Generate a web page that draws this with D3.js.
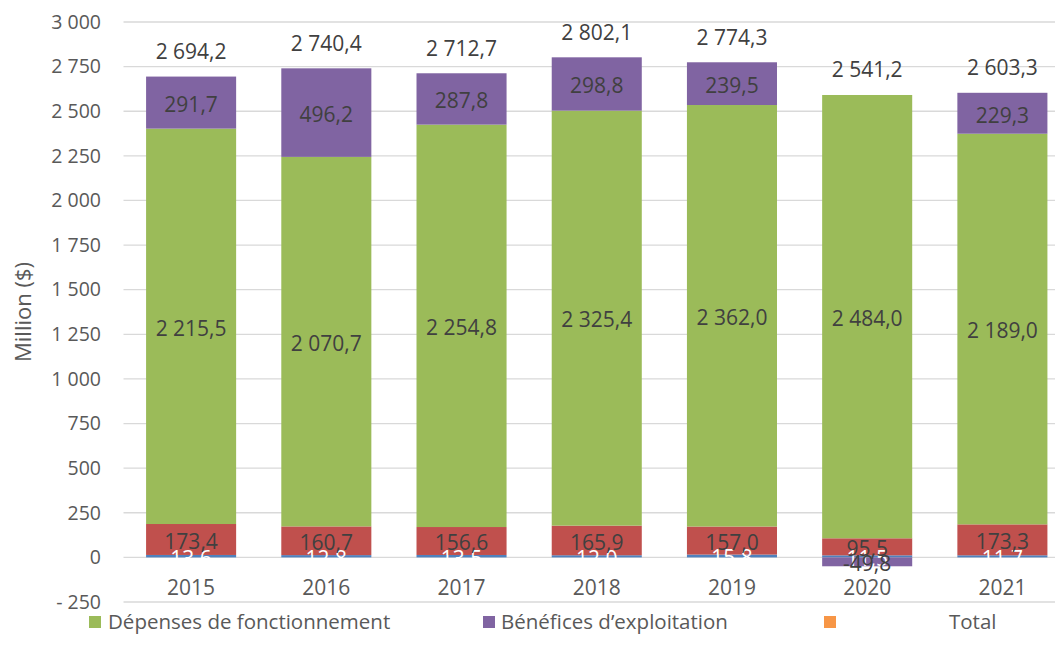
<!DOCTYPE html>
<html><head><meta charset="utf-8">
<script src="https://cdn.jsdelivr.net/npm/d3@7"></script>
<style>body{margin:0;background:#fff}svg{display:block;font-family:"Open Sans",sans-serif}</style>
</head><body><svg id="c" width="1055" height="663"></svg>
<script>
const years = ["2015","2016","2017","2018","2019","2020","2021"];
const serieA = [13.6, 12.8, 13.5, 12.0, 15.8, 11.5, 11.7];        // blue
const serieB = [173.4, 160.7, 156.6, 165.9, 157.0, 95.5, 173.3];   // red
const depenses = [2215.5, 2070.7, 2254.8, 2325.4, 2362.0, 2484.0, 2189.0];
const benefices = [291.7, 496.2, 287.8, 298.8, 239.5, -49.8, 229.3];
const totals = [2694.2, 2740.4, 2712.7, 2802.1, 2774.3, 2541.2, 2603.3];
const yTicks = [-250,0,250,500,750,1000,1250,1500,1750,2000,2250,2500,2750,3000];

const series = [
  {key:"a", vals:serieA, color:"#4F81BD", label:"#FFFFFF"},
  {key:"b", vals:serieB, color:"#C0504D", label:"#404040"},
  {key:"dep", vals:depenses, color:"#9BBB59", label:"#404040"},
  {key:"ben", vals:benefices, color:"#8064A2", label:"#404040"}
];
const legend = [
  {name:"Dépenses de fonctionnement", color:"#9BBB59"},
  {name:"Bénéfices d’exploitation", color:"#8064A2"},
  {name:"Total", color:"#F79646"}
];

const svg = d3.select("#c");
const x = d3.scaleBand().domain(years).range([123.5, 1070]).paddingInner(0.334).paddingOuter(0.167);
const y = d3.scaleLinear().domain([-250, 3000]).range([602, 22]);
const fmt = v => {
  const s = d3.format(",.1f")(Math.abs(v)).replace(/,/g," ").replace(".",",");
  return v < 0 ? "-" + s : s;
};
const tickFmt = v => {
  const s = d3.format(",")(Math.abs(v)).replace(/,/g," ");
  return v < 0 ? "- " + s : s;
};

// grid
svg.append("g").selectAll("line").data(yTicks).join("line")
  .attr("x1", 123.5).attr("x2", 1070)
  .attr("y1", d => y(d)).attr("y2", d => y(d))
  .attr("stroke", "#D9D9D9").attr("stroke-width", 1.3);

// y axis labels
const ya = svg.append("g").attr("transform","translate(101,0)")
  .call(d3.axisLeft(y).tickValues(yTicks).tickFormat(tickFmt).tickSize(0).tickPadding(0));
ya.select(".domain").remove();
ya.selectAll("text").attr("fill","#595959").style("font-size","19.5px").style("font-family","'Open Sans',sans-serif");

svg.append("text").attr("transform","translate(31,312) rotate(-90)")
  .attr("text-anchor","middle").attr("fill","#595959").style("font-size","22px").text("Million ($)");

// stacking
const pos = years.map(() => 0), neg = years.map(() => 0);
const segs = [];
series.forEach(s => {
  s.vals.forEach((v, i) => {
    let y0, y1;
    if (v >= 0) { y0 = pos[i]; y1 = pos[i] + v; pos[i] = y1; }
    else { y0 = neg[i]; y1 = neg[i] + v; neg[i] = y1; }
    segs.push({year: years[i], v, y0, y1, color: s.color, label: s.label});
  });
});

svg.append("g").selectAll("rect").data(segs).join("rect")
  .attr("x", d => x(d.year)).attr("width", x.bandwidth())
  .attr("y", d => y(Math.max(d.y0, d.y1)))
  .attr("height", d => Math.abs(y(d.y0) - y(d.y1)))
  .attr("fill", d => d.color);

svg.append("g").selectAll("text").data(segs).join("text")
  .attr("x", d => x(d.year) + x.bandwidth()/2)
  .attr("y", d => y((d.y0 + d.y1)/2) + 2)
  .attr("dy", "0.35em").attr("text-anchor","middle")
  .attr("fill", d => d.label).style("font-size","21px")
  .text(d => fmt(d.v));

// totals
svg.append("g").selectAll("text").data(totals).join("text")
  .attr("x", (d,i) => x(years[i]) + x.bandwidth()/2)
  .attr("y", (d,i) => y(pos[i]) - 25)
  .attr("dy","0.35em").attr("text-anchor","middle")
  .attr("fill","#404040").style("font-size","21px")
  .text(d => fmt(d));

// x axis labels
const xa = svg.append("g").attr("transform","translate(0,580)")
  .call(d3.axisBottom(x).tickSize(0).tickPadding(0));
xa.select(".domain").remove();
xa.selectAll("text").attr("fill","#595959").attr("dy","0.71em").style("font-size","21px").style("font-family","'Open Sans',sans-serif");

// legend
const lx = [89, 483, 824];
const tx = [108, 501, 949];
const lg = svg.append("g");
legend.forEach((l, i) => {
  lg.append("rect").attr("x", lx[i]).attr("y", 616).attr("width", 12).attr("height", 12).attr("fill", l.color);
  lg.append("text").attr("x", tx[i]).attr("y", 622).attr("dy","0.35em")
    .attr("fill","#595959").style("font-size","20.5px").text(l.name);
});
</script></body></html>
